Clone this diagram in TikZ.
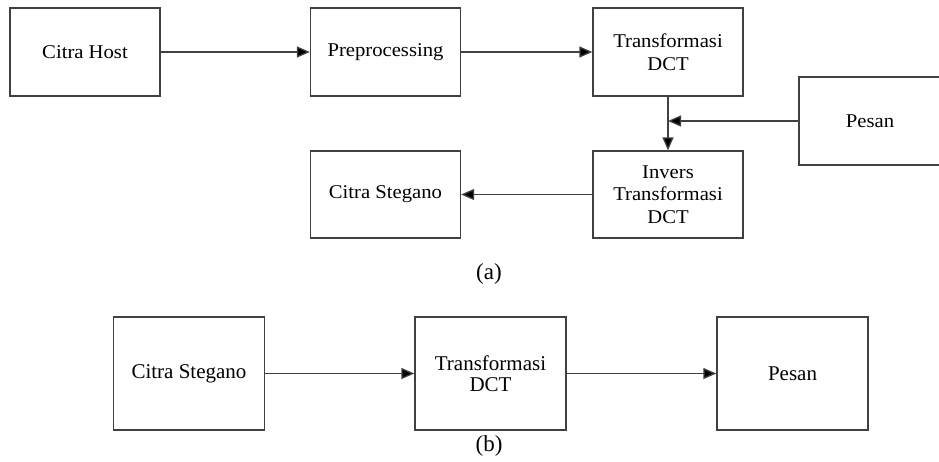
\documentclass[tikz,border=0pt]{standalone}
\usepackage{fontspec}
\setmainfont{Liberation Serif}
\newfontfamily\topfont[FakeStretch=1.06]{Liberation Serif}
\usetikzlibrary{arrows.meta}
\tikzset{
  boxA/.style={draw=black!75, line width=1.3pt, minimum width=150pt, minimum height=88pt, inner sep=0pt, align=center, font=\topfont\fontsize{19.5}{22.5}\selectfont},
  boxB/.style={draw=black!75, line width=1.3pt, minimum width=151pt, minimum height=113pt, inner sep=0pt, align=center, font=\fontsize{21}{21}\selectfont},
  conn/.style={draw=black!75, line width=1.3pt, -{Triangle[length=13pt,width=11pt,fill=black]}},
  subcap/.style={font=\fontsize{23}{26}\selectfont, inner sep=0pt}
}
\begin{document}
\begin{tikzpicture}[x=1pt,y=-1pt]
\useasboundingbox (0,0) rectangle (939,461);
% (a)
\node[boxA] (host) at (85,52) {Citra Host};
\node[boxA] (pre) at (385.5,52) {Preprocessing};
\node[boxA] (tdct) at (668,52) {Transformasi\\DCT};
\node[boxA, minimum width=142pt] (pesan) at (870,121) {Pesan};
\node[boxA, minimum height=87pt] (inv) at (668,194.5) {Invers\\Transformasi\\DCT};
\node[boxA, minimum height=87pt] (cs) at (385.5,194.5) {Citra Stegano};
\coordinate (join) at (pesan.west -| tdct.south);
\draw[conn] (host.east) -- (pre.west);
\draw[conn] (pre.east) -- (tdct.west);
\draw[conn] (tdct.south) -- (inv.north);
\draw[conn] (pesan.west) -- (join);
\draw[conn] (inv.west) -- (cs.east);
\node[subcap] (la) at (489,274) {(a)};
% (b)
\node[boxB] (cs2) at (189,373.5) {Citra Stegano};
\node[boxB] (tdct2) at (490.5,373.5) {Transformasi\\DCT};
\node[boxB] (pesan2) at (792.5,373.5) {Pesan};
\draw[conn] (cs2.east) -- (tdct2.west);
\draw[conn] (tdct2.east) -- (pesan2.west);
\node[subcap] (lb) at (489,446) {(b)};
\end{tikzpicture}
\end{document}
